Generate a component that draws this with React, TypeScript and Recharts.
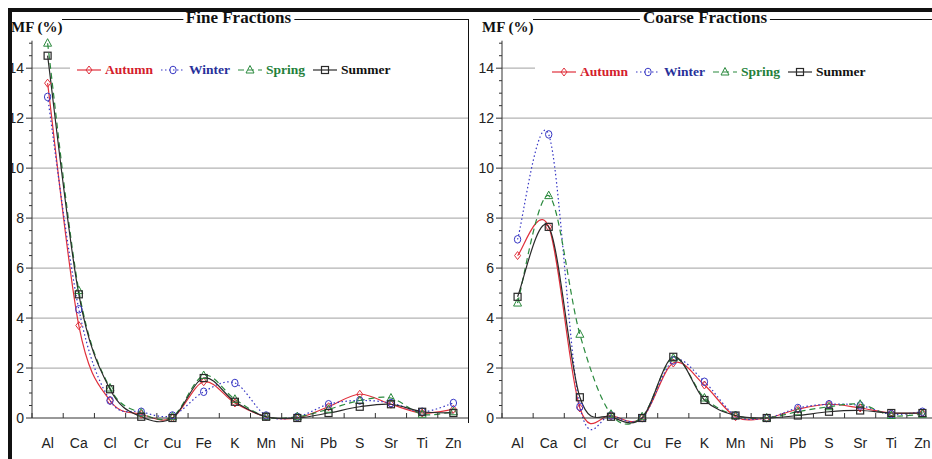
import React from 'react';
import { LineChart, Line, XAxis, YAxis, ReferenceLine } from 'recharts';

// elements on the x axis
const elements = ['Al', 'Ca', 'Cl', 'Cr', 'Cu', 'Fe', 'K', 'Mn', 'Ni', 'Pb', 'S', 'Sr', 'Ti', 'Zn'];

// fine fractions, MF (%)
const autumnFine = [13.4, 3.7, 0.7, 0.15, 0.0, 1.45, 0.6, 0.05, 0.0, 0.45, 0.95, 0.55, 0.2, 0.35];
const winterFine = [12.85, 4.35, 0.7, 0.25, 0.1, 1.05, 1.4, 0.1, 0.05, 0.55, 0.7, 0.6, 0.25, 0.6];
const springFine = [15.0, 5.1, 1.2, 0.2, 0.05, 1.7, 0.75, 0.05, 0.05, 0.35, 0.7, 0.8, 0.15, 0.25];
const summerFine = [14.5, 4.95, 1.15, 0.05, 0.0, 1.6, 0.65, 0.05, 0.0, 0.2, 0.45, 0.55, 0.25, 0.2];

// coarse fractions, MF (%)
const autumnCoarse = [6.5, 7.65, 0.4, 0.1, 0.0, 2.2, 1.32, 0.05, 0.0, 0.35, 0.55, 0.4, 0.2, 0.2];
const winterCoarse = [7.15, 11.35, 0.45, 0.1, 0.0, 2.3, 1.45, 0.1, 0.0, 0.4, 0.55, 0.5, 0.15, 0.25];
const springCoarse = [4.6, 8.9, 3.35, 0.15, 0.05, 2.4, 0.8, 0.1, 0.0, 0.25, 0.45, 0.55, 0.1, 0.15];
const summerCoarse = [4.85, 7.65, 0.83, 0.05, 0.0, 2.45, 0.72, 0.1, 0.0, 0.1, 0.25, 0.3, 0.2, 0.2];

// y axis: minor ticks every 0.5, labels / grid every 2
const yTicks = [0, 0.5, 1, 1.5, 2, 2.5, 3, 3.5, 4, 4.5, 5, 5.5, 6, 6.5, 7, 7.5, 8, 8.5, 9, 9.5, 10, 10.5, 11, 11.5, 12, 12.5, 13, 13.5, 14, 14.5, 15];
const yLabels = [0, 2, 4, 6, 8, 10, 12, 14];
const gridValues = [2, 4, 6, 8, 10, 12, 14];

const SERIES = [
    { key: 'autumn', name: 'Autumn', color: '#e0303c', text: '#d4202c', dash: undefined, shape: 'diamond' },
    { key: 'winter', name: 'Winter', color: '#3636c4', text: '#27309a', dash: '1.5 2.5', shape: 'circle' },
    { key: 'spring', name: 'Spring', color: '#2b8a3e', text: '#23803a', dash: '6 4', shape: 'triangle' },
    { key: 'summer', name: 'Summer', color: '#2a2a2a', text: '#111', dash: undefined, shape: 'square' },
];

const buildRows = (a: number[], w: number[], sp: number[], su: number[]) =>
    elements.map((el, i) => ({ el, autumn: a[i], winter: w[i], spring: sp[i], summer: su[i] }));

const fineData = buildRows(autumnFine, winterFine, springFine, summerFine);
const coarseData = buildRows(autumnCoarse, winterCoarse, springCoarse, summerCoarse);

const AXIS_FONT = "'Liberation Sans Narrow', 'Arial Narrow', 'Liberation Sans', Arial, sans-serif";
const SERIF = "'Liberation Serif', 'Times New Roman', serif";

// Excel-like smoothed line (Catmull-Rom through every point)
const smoothCurve = (context: any) => {
    let pts: number[][] = [];
    return {
        areaStart() {},
        areaEnd() {},
        lineStart() { pts = []; },
        point(x: number, y: number) { pts.push([+x, +y]); },
        lineEnd() {
            if (!pts.length) return;
            context.moveTo(pts[0][0], pts[0][1]);
            for (let i = 0; i < pts.length - 1; i++) {
                const p0 = pts[Math.max(i - 1, 0)];
                const p1 = pts[i];
                const p2 = pts[i + 1];
                const p3 = pts[Math.min(i + 2, pts.length - 1)];
                context.bezierCurveTo(
                    p1[0] + (p2[0] - p0[0]) / 6, p1[1] + (p2[1] - p0[1]) / 6,
                    p2[0] - (p3[0] - p1[0]) / 6, p2[1] - (p3[1] - p1[1]) / 6,
                    p2[0], p2[1]
                );
            }
        },
    };
};

const Marker = ({ cx, cy, shape, color }: any) => {
    if (cx == null || cy == null) return null;
    if (shape === 'diamond') {
        return <path d={`M${cx},${cy - 4}L${cx + 3},${cy}L${cx},${cy + 4}L${cx - 3},${cy}Z`} fill="none" stroke={color} strokeWidth={1} />;
    }
    if (shape === 'circle') {
        return <ellipse cx={cx} cy={cy} rx={3.2} ry={3.8} fill="none" stroke={color} strokeWidth={1} />;
    }
    if (shape === 'triangle') {
        return <path d={`M${cx},${cy - 4.5}L${cx + 4},${cy + 3}L${cx - 4},${cy + 3}Z`} fill="none" stroke={color} strokeWidth={1} />;
    }
    return <rect x={cx - 3.5} y={cy - 3.5} width={7} height={7} fill="none" stroke={color} strokeWidth={1.2} />;
};

const YTick = (props: any) => {
    const { x, y, payload } = props;
    const major = yLabels.includes(payload.value);
    return (
        <g>
            <line x1={x} x2={x - (major ? 6 : 3)} y1={y} y2={y} stroke="#333" />
            {major && (
                <text x={x - 8} y={y + 5} textAnchor="end" fontFamily={AXIS_FONT} fontSize={14} fill="#222">
                    {payload.value}
                </text>
            )}
        </g>
    );
};

const XTick = (props: any) => {
    const { x, y, payload } = props;
    const half = payload.offset || 15.6;
    return (
        <g>
            <line x1={x - half} x2={x - half} y1={y} y2={y - 5} stroke="#333" />
            <text x={x} y={y + 30} textAnchor="middle" fontFamily={AXIS_FONT} fontSize={14} fill="#222">
                {payload.value}
            </text>
        </g>
    );
};

const LegendBox = ({ left, top, width, pad }: any) => (
    <div style={{ position: 'absolute', left, top, width, height: 18, background: '#fff', display: 'flex', alignItems: 'center', paddingLeft: pad, boxSizing: 'border-box' }}>
        {SERIES.map((s) => (
            <div key={s.key} style={{ display: 'flex', alignItems: 'center', marginRight: 8 }}>
                <svg width={24} height={12}>
                    <line x1={0} x2={24} y1={6} y2={6} stroke={s.color} strokeWidth={1.2} strokeDasharray={s.dash} />
                    <Marker cx={12} cy={6} shape={s.shape} color={s.color} />
                </svg>
                <span style={{ marginLeft: 4, fontFamily: SERIF, fontWeight: 'bold', fontSize: 13.5, color: s.text, lineHeight: '14px' }}>
                    {s.name}
                </span>
            </div>
        ))}
    </div>
);

const Panel = ({ data, left, width, right }: any) => (
    <div style={{ position: 'absolute', left, top: 0 }}>
        <LineChart width={width} height={459} data={data} margin={{ top: 40.7, right, bottom: 11, left: 0 }}>
            <XAxis dataKey="el" scale="band" height={30} tickSize={0} tickMargin={0} tickLine={false} interval={0} tick={<XTick />} stroke="#333" />
            <YAxis width={32} domain={[0, 15.1]} ticks={yTicks} interval={0} tickSize={0} tickMargin={0} tickLine={false} tick={<YTick />} stroke="#333" />
            {gridValues.map((v) => (
                <ReferenceLine key={v} y={v} stroke="#b3b3b3" strokeWidth={1.2} />
            ))}
            {SERIES.map((s) => (
                <Line
                    key={s.key}
                    dataKey={s.key}
                    type={smoothCurve as any}
                    stroke={s.color}
                    strokeWidth={1.2}
                    strokeDasharray={s.dash}
                    isAnimationActive={false}
                    activeDot={false}
                    dot={(p: any) => <Marker key={`${s.key}-${p.index}`} cx={p.cx} cy={p.cy} shape={s.shape} color={s.color} />}
                />
            ))}
        </LineChart>
    </div>
);

const titleStyle: React.CSSProperties = {
    position: 'absolute',
    top: 8.5,
    transform: 'translateX(-50%)',
    background: '#fff',
    padding: '0 3px',
    fontFamily: SERIF,
    fontWeight: 'bold',
    fontSize: 17,
    lineHeight: '17px',
    whiteSpace: 'nowrap',
    color: '#111',
};

const mfStyle: React.CSSProperties = {
    position: 'absolute',
    top: 19.5,
    fontFamily: SERIF,
    fontWeight: 'bold',
    fontSize: 15,
    lineHeight: '15px',
    color: '#111',
    whiteSpace: 'nowrap',
};

const App = () => {
    return (
        <div style={{ position: 'absolute', left: 0, top: 0, width: 932, height: 459, overflow: 'hidden', background: '#fff' }}>
            <Panel data={fineData} left={0} width={470} right={1} />
            <Panel data={coarseData} left={470} width={468} right={0} />

            {/* frames */}
            <div style={{ position: 'absolute', left: 62, top: 19, width: 407, height: 1, background: '#111' }} />
            <div style={{ position: 'absolute', left: 468, top: 19, width: 1, height: 404, background: '#111' }} />
            <div style={{ position: 'absolute', left: 533, top: 19, width: 400, height: 1, background: '#111' }} />

            <LegendBox left={70} top={61} width={398} pad={7} />
            <LegendBox left={535} top={62.5} width={397} pad={17} />

            <div style={{ ...titleStyle, left: 238.5 }}>Fine Fractions</div>
            <div style={{ ...titleStyle, left: 705 }}>Coarse Fractions</div>
            <div style={{ ...mfStyle, left: 11 }}>MF (%)</div>
            <div style={{ ...mfStyle, left: 482 }}>MF (%)</div>

            {/* thick outer border */}
            <div style={{ position: 'absolute', left: 8, top: 8, width: 924, height: 3.5, background: '#111' }} />
            <div style={{ position: 'absolute', left: 8, top: 8, width: 4, height: 451, background: '#111' }} />
        </div>
    );
};

export default App;
